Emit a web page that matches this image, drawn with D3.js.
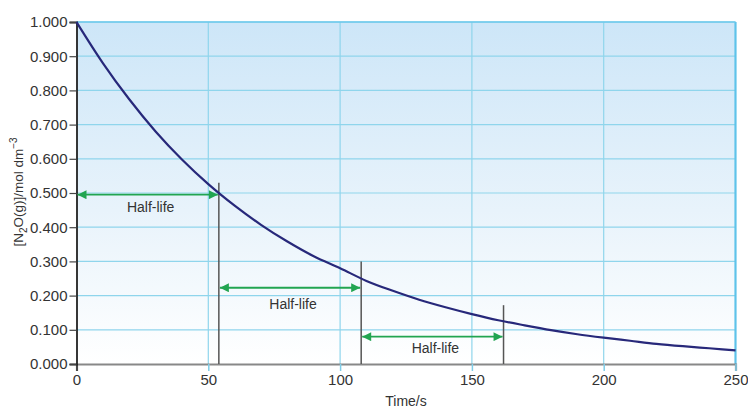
<!DOCTYPE html>
<meta charset="utf-8">
<style>
  body { margin: 0; background: #fff; }
  svg text { font-family: "Liberation Sans Narrow", "Arial Narrow", "Liberation Sans", sans-serif; fill: #333; }
  .grid line { stroke: #8fd5ec; stroke-width: 1.2px; }
  .curve { fill: none; stroke: #27287a; stroke-width: 2.2px; }
  .marker { stroke: #555; stroke-width: 1.5px; }
  .arrow { stroke: #22a551; stroke-width: 1.8px; }
</style>
<svg width="748" height="408"></svg>
<script src="https://d3js.org/d3.v7.min.js"></script>
<script>

// concentration every 10 s
var times = [0, 10, 20, 30, 40, 50, 60, 70, 80, 90, 100, 110, 120, 130, 140, 150, 160, 170, 180, 190, 200, 210, 220, 230, 240, 250];
var conc = [1.000, 0.880, 0.774, 0.680, 0.598, 0.526, 0.463, 0.407, 0.358, 0.315, 0.280, 0.243, 0.214, 0.188, 0.166, 0.146, 0.128, 0.113, 0.099, 0.087, 0.077, 0.068, 0.059, 0.052, 0.046, 0.040];

// half-life markers
var halfStart = [0, 54, 108];
var halfEnd = [54, 108, 162];
var markerTop = [0.53, 0.30, 0.172];
var arrowLevel = [0.495, 0.223, 0.08];
var halfLabel = ["Half-life", "Half-life", "Half-life"];
var labelLevel = [0.445, 0.16, 0.032];

var xTicks = [0, 50, 100, 150, 200, 250];
var yTicks = [0, 0.1, 0.2, 0.3, 0.4, 0.5, 0.6, 0.7, 0.8, 0.9, 1.0];

var svg = d3.select("svg"),
    margin = {top: 22, right: 12, bottom: 44, left: 76.5},
    width = 735.5 - margin.left,
    height = 364 - margin.top;

var x = d3.scaleLinear().domain([0, 250]).range([0, width]);
var y = d3.scaleLinear().domain([0, 1]).range([height, 0]);

var defs = svg.append("defs");
var grad = defs.append("linearGradient")
    .attr("id", "bg").attr("x1", 0).attr("y1", 0).attr("x2", 0).attr("y2", 1);
grad.append("stop").attr("offset", "0%").attr("stop-color", "#cde6f8");
grad.append("stop").attr("offset", "55%").attr("stop-color", "#e8f3fb");
grad.append("stop").attr("offset", "100%").attr("stop-color", "#ffffff");

defs.append("marker")
    .attr("id", "head")
    .attr("viewBox", "0 0 10 10")
    .attr("refX", 10).attr("refY", 5)
    .attr("markerWidth", 6).attr("markerHeight", 5)
    .attr("markerUnits", "strokeWidth")
    .attr("orient", "auto-start-reverse")
  .append("path")
    .attr("d", "M0,0L10,5L0,10Z")
    .attr("fill", "#22a551");

var g = svg.append("g")
    .attr("transform", "translate(" + margin.left + "," + margin.top + ")");

g.append("rect")
    .attr("width", width)
    .attr("height", height)
    .attr("fill", "url(#bg)");

// grid
var grid = g.append("g").attr("class", "grid");
grid.selectAll(".h").data(yTicks.filter(function(d) { return d > 0; }))
  .enter().append("line")
    .attr("x1", 0).attr("x2", width)
    .attr("y1", function(d) { return y(d); })
    .attr("y2", function(d) { return y(d); });
grid.selectAll(".v").data(xTicks.filter(function(d) { return d > 0 && d < 250; }))
  .enter().append("line")
    .attr("y1", 0).attr("y2", height)
    .attr("x1", function(d) { return x(d); })
    .attr("x2", function(d) { return x(d); });

g.append("line")
    .attr("x1", x(250)).attr("x2", x(250))
    .attr("y1", 0).attr("y2", height)
    .attr("stroke", "#5ec3ea").attr("stroke-width", 2.2);
g.append("line")
    .attr("x1", 0).attr("x2", width)
    .attr("y1", 0).attr("y2", 0)
    .attr("stroke", "#6cc8eb").attr("stroke-width", 1.6);

// axes
var xAxis = g.append("g")
    .attr("transform", "translate(0," + height + ")")
    .call(d3.axisBottom(x).tickValues(xTicks).tickSize(7).tickPadding(3));
xAxis.select(".domain").attr("stroke", "#888").attr("stroke-width", 2.2);
xAxis.selectAll(".tick line").attr("stroke", function(d) { return d === 0 ? "#333" : "#7fcde8"; }).attr("stroke-width", 1.5);
xAxis.selectAll("text").attr("font-size", 15).attr("fill", "#333").attr("font-family", null);

var yAxis = g.append("g")
    .call(d3.axisLeft(y).tickValues(yTicks).tickFormat(d3.format(".3f")).tickSize(7).tickPadding(2));
yAxis.select(".domain").attr("stroke", "#222").attr("stroke-width", 1.8);
yAxis.selectAll(".tick line").attr("stroke", "#444").attr("stroke-width", 1.2);
yAxis.selectAll("text").attr("font-size", 15).attr("fill", "#333").attr("font-family", null);

// half-life markers
g.selectAll(".marker").data(halfEnd)
  .enter().append("line")
    .attr("class", "marker")
    .attr("x1", function(d) { return x(d); })
    .attr("x2", function(d) { return x(d); })
    .attr("y1", height)
    .attr("y2", function(d, i) { return y(markerTop[i]); });

g.selectAll(".arrow").data(halfStart)
  .enter().append("line")
    .attr("class", "arrow")
    .attr("x1", function(d) { return x(d) + 1; })
    .attr("x2", function(d, i) { return x(halfEnd[i]) - 1; })
    .attr("y1", function(d, i) { return y(arrowLevel[i]); })
    .attr("y2", function(d, i) { return y(arrowLevel[i]); })
    .attr("marker-start", "url(#head)")
    .attr("marker-end", "url(#head)");

g.selectAll(".hl").data(halfLabel)
  .enter().append("text")
    .attr("x", function(d, i) { return x((halfStart[i] + halfEnd[i]) / 2) + 3; })
    .attr("y", function(d, i) { return y(labelLevel[i]); })
    .attr("text-anchor", "middle")
    .attr("font-size", 14)
    .text(function(d) { return d; });

// curve
var line = d3.line()
    .x(function(d, i) { return x(times[i]); })
    .y(function(d) { return y(d); })
    .curve(d3.curveMonotoneX);

g.append("path")
    .datum(conc)
    .attr("class", "curve")
    .attr("d", line);

// axis titles
svg.append("text")
    .attr("x", margin.left + width / 2)
    .attr("y", 406)
    .attr("text-anchor", "middle")
    .attr("font-size", 14)
    .text("Time/s");

var yt = svg.append("text")
    .attr("transform", "translate(23," + 192 + ") rotate(-90)")
    .attr("text-anchor", "middle")
    .attr("font-size", 13.5);
yt.append("tspan").text("[N");
yt.append("tspan").attr("font-size", 10).attr("dy", 4).text("2");
yt.append("tspan").attr("dy", -4).text("O(g)]/mol dm");
yt.append("tspan").attr("font-size", 10).attr("dy", -6).text("\u22123");

</script>
